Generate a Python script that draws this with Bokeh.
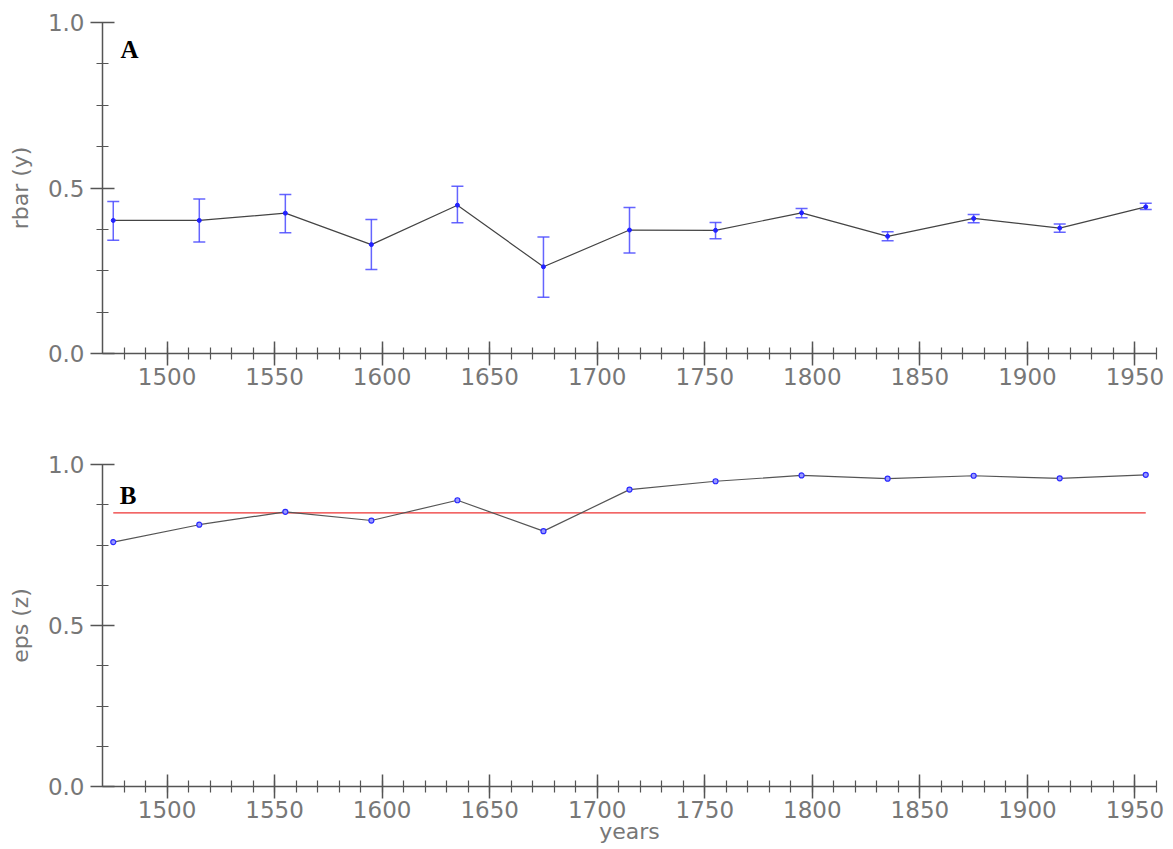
from bokeh.plotting import figure
from bokeh.layouts import column
from bokeh.models import (FixedTicker, PrintfTickFormatter, Range1d, Whisker,
                          ColumnDataSource, Label, TeeHead)
from bokeh.embed import file_html
from bokeh.resources import INLINE

# ---- data ----
years = [1475, 1515, 1555, 1595, 1635, 1675, 1715, 1755, 1795, 1835, 1875, 1915, 1955]
rbar = [0.402, 0.402, 0.424, 0.329, 0.448, 0.262, 0.373, 0.372, 0.425, 0.354, 0.408, 0.379, 0.443]
rbar_lo = [0.342, 0.337, 0.365, 0.254, 0.395, 0.170, 0.304, 0.347, 0.410, 0.341, 0.395, 0.366, 0.435]
rbar_hi = [0.459, 0.467, 0.480, 0.405, 0.505, 0.352, 0.441, 0.396, 0.438, 0.368, 0.420, 0.391, 0.454]
eps = [0.759, 0.813, 0.853, 0.826, 0.889, 0.793, 0.922, 0.948, 0.966, 0.956, 0.965, 0.957, 0.968]
eps_threshold = 0.85

x_major = [1500, 1550, 1600, 1650, 1700, 1750, 1800, 1850, 1900, 1950]
x_minor = list(range(1480, 1961, 10))
y_major = [0.0, 0.5, 1.0]
y_minor = [0.125, 0.25, 0.375, 0.625, 0.75, 0.875]

FONT = "DejaVu Sans"
AXIS_COL = "#555555"
TEXT_COL = "#777777"


def style(p, ylabel):
    p.xgrid.visible = False
    p.ygrid.visible = False
    p.outline_line_color = None
    p.xaxis.ticker = FixedTicker(ticks=x_major, minor_ticks=x_minor)
    p.yaxis.ticker = FixedTicker(ticks=y_major, minor_ticks=y_minor)
    p.yaxis.formatter = PrintfTickFormatter(format="%.1f")
    for ax in p.axis:
        ax.axis_line_color = AXIS_COL
        ax.axis_line_width = 1.5
        ax.major_tick_line_color = AXIS_COL
        ax.major_tick_line_width = 1.5
        ax.minor_tick_line_color = AXIS_COL
        ax.minor_tick_line_width = 1.2
        ax.major_tick_in = 12
        ax.major_tick_out = 12
        ax.minor_tick_in = 6
        ax.minor_tick_out = 6
        ax.major_label_text_font = FONT
        ax.major_label_text_font_size = "23px"
        ax.major_label_text_color = TEXT_COL
        ax.axis_label_text_font = FONT
        ax.axis_label_text_font_size = "22px"
        ax.axis_label_text_color = TEXT_COL
        ax.axis_label_text_font_style = "normal"
    p.xaxis.major_label_standoff = 2
    p.yaxis.major_label_standoff = 6
    p.yaxis.axis_label = ylabel
    p.yaxis.axis_label_standoff = 12


# ---- panel A ----
pA = figure(width=1166, height=403, x_range=Range1d(1470, 1960), y_range=Range1d(0, 1),
            output_backend="svg", toolbar_location=None,
            min_border_left=102, min_border_right=10, min_border_top=22, min_border_bottom=50)
style(pA, "rbar (y)")
srcA = ColumnDataSource(dict(x=years, y=rbar, lo=rbar_lo, hi=rbar_hi))
ecol = "#4a4aff"
pA.add_layout(Whisker(source=srcA, base="x", upper="hi", lower="lo",
                      line_color=ecol, line_width=1.5, line_alpha=0.85,
                      upper_head=TeeHead(size=12, line_color=ecol, line_width=1.5, line_alpha=0.85),
                      lower_head=TeeHead(size=12, line_color=ecol, line_width=1.5, line_alpha=0.85)))
pA.line("x", "y", source=srcA, line_color="#444444", line_width=1.2)
pA.scatter("x", "y", source=srcA, size=4, fill_color="#2222ff", line_color="#2222ff")
pA.add_layout(Label(x=1478.4, y=0.918, text="A", text_font="Liberation Serif",
                    text_font_style="bold", text_font_size="25px", text_color="black",
                    text_baseline="alphabetic"))

# ---- panel B ----
pB = figure(width=1166, height=444, x_range=Range1d(1470, 1960), y_range=Range1d(0, 1),
            output_backend="svg", toolbar_location=None,
            min_border_left=102, min_border_right=10, min_border_top=61, min_border_bottom=61)
style(pB, "eps (z)")
pB.xaxis.axis_label = "years"
pB.xaxis.axis_label_standoff = -2
srcB = ColumnDataSource(dict(x=years, y=eps))
pB.line([years[0], years[-1]], [eps_threshold, eps_threshold], line_color="#ee3333", line_width=1.2)
pB.line("x", "y", source=srcB, line_color="#555555", line_width=1.2)
pB.scatter("x", "y", source=srcB, size=5, fill_color="#9999ff", line_color="#2a2aff", line_width=1.2)
pB.add_layout(Label(x=1478.0, y=0.904, text="B", text_font="Liberation Serif",
                    text_font_style="bold", text_font_size="25px", text_color="black",
                    text_baseline="alphabetic"))

layout = column(pA, pB, spacing=0)
open("out.html", "w").write(file_html(layout, INLINE))
